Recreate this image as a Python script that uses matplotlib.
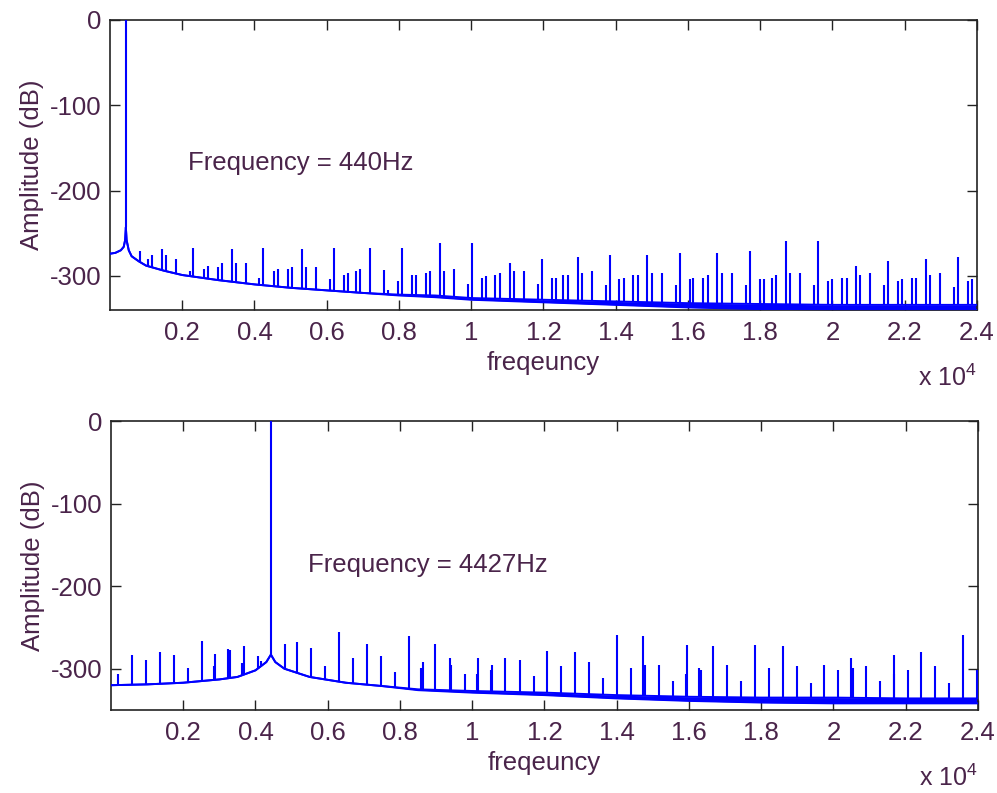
import numpy as np
import matplotlib
matplotlib.use("Agg")
import matplotlib.pyplot as plt

plt.rcParams['font.family'] = ['Liberation Sans', 'DejaVu Sans']
plt.rcParams['mathtext.fontset'] = 'custom'
plt.rcParams['mathtext.rm'] = 'Liberation Sans'

TXT = '#4a244a'
BLUE = '#0000ff'

# ---- top panel: 440 Hz tone ----
f1_peak = 440
f1_floor = [5, 150, 300, 380, 420, 440, 460, 520, 600, 800, 1000, 1500, 2000, 3000, 4000,
            5000, 6000, 7000, 8000, 9000, 10000, 12000, 14000, 16000, 18000, 20000, 22000, 24000]
db1_floor = [-274, -273, -270, -266, -258, -243, -258, -270, -277, -283, -288, -294, -299, -305, -310,
             -314, -317, -320, -322, -323, -326, -328, -330, -332, -333, -334, -334, -334]
# lower edge of the noisy floor band
db1_floor_lo = [-274, -273, -270, -266, -258, -243, -258, -270, -277, -283, -288, -294, -299, -305, -310,
                -314, -317, -320, -323, -325, -328, -331, -334, -337, -339, -340, -340, -340]
f1_spk = [831, 1062, 1154, 1431, 1551, 1819, 2215, 2308, 2612, 2704, 3000, 3092, 3369, 3480, 3757,
          4135, 4246, 4541, 4643, 4938, 5031, 5308, 5427, 5696, 6092, 6194, 6488, 6581, 6803, 6923,
          7200, 7596, 7707, 7966, 8077, 8353, 8464, 8741, 8852, 9138, 9248, 9525, 9904, 10015,
          10292, 10403, 10661, 10799, 11076, 11178, 11455, 11842, 11953, 12230, 12350, 12553,
          12673, 12950, 13061, 13338, 13726, 13836, 14104, 14233, 14491, 14611, 14879, 14999,
          15276, 15664, 15774, 16051, 16152, 16430, 16550, 16817, 16937, 17214, 17602, 17713,
          17990, 18109, 18322, 18433, 18710, 18829, 19106, 19485, 19596, 19873, 19983, 20260,
          20389, 20648, 20768, 21044, 21423, 21534, 21801, 21930, 22198, 22318, 22586, 22697,
          22974, 23362, 23473, 23740, 23860]
db1_spk = [-271, -280, -276, -269, -276, -280, -294, -267, -292, -288, -290, -285, -269, -285, -285,
           -302, -267, -294, -292, -292, -290, -269, -290, -290, -304, -267, -299, -297, -294, -292,
           -267, -293, -316, -306, -267, -299, -299, -297, -294, -262, -294, -292, -309, -262,
           -302, -300, -299, -297, -285, -294, -294, -309, -280, -302, -302, -299,
           -299, -278, -297, -294, -311, -276, -304, -302, -299, -299, -276, -297,
           -297, -311, -273, -304, -302, -302, -299, -273, -297, -297, -311, -271,
           -304, -304, -302, -299, -259, -297, -297, -311, -259, -306, -304, -302,
           -302, -288, -299, -297, -311, -282, -306, -304, -302, -302, -280, -299,
           -297, -313, -278, -306, -304]

# ---- bottom panel: 4427 Hz tone ----
f2_peak = 4427
f2_floor = [5, 1000, 2000, 3000, 3500, 4000, 4300, 4427, 4550, 4800, 5500, 6500, 7500, 8500,
            10000, 12000, 14000, 16000, 18000, 20000, 22000, 24000]
db2_floor = [-320, -319, -317, -313, -310, -302, -292, -283, -292, -300, -310, -317, -321, -325,
             -327, -329, -332, -334, -335, -335, -336, -336]
db2_floor_lo = [-320, -319, -317, -313, -310, -302, -292, -283, -292, -300, -310, -317, -321, -326,
                -329, -332, -336, -339, -341, -342, -342, -342]
f2_spk = [184, 572, 959, 1355, 1743, 2121, 2508, 2877, 3227, 3670, 4057, 4831, 5163, 5551, 5938,
          6325, 6712, 7099, 7487, 7874, 8261, 8639, 8980, 9377, 9792, 10160, 10548, 10917, 11313,
          11700, 12078, 12465, 12853, 13240, 13627, 14014, 14383, 14734, 15158, 15545, 15932,
          16274, 16661, 17057, 17444, 17832, 18209, 18606, 18993, 19381, 19749, 20118, 20487,
          20902, 21298, 21685, 22054, 22423, 22811, 23207, 23585, 23972]
db2_spk = [-306, -283, -290, -280, -283, -299, -266, -282, -276, -273, -285, -270, -268, -275, -297,
           -256, -287, -270, -285, -304, -261, -292, -270, -287, -307, -287, -295, -287, -290,
           -309, -278, -297, -280, -292, -311, -259, -299, -261, -295, -315, -271,
           -299, -273, -295, -315, -271, -299, -273, -297, -317, -295, -302, -287,
           -297, -315, -283, -302, -280, -297, -317, -259, -302]
# secondary lines that sit right beside some of the main ones
f2_pair = [2849, 3282, 3615, 4149, 8593, 9423, 10142, 10529, 14771, 15923, 16338, 20533, 21667]
db2_pair = [-297, -277, -293, -291, -299, -295, -307, -302, -295, -307, -301, -299, -307]


def panel(ax, f_peak, f_floor, db_floor, db_lo, f_spk, db_spk, ymin, label):
    ax.fill_between(f_floor, db_lo, db_floor, color=BLUE, lw=0, zorder=2)
    ax.plot(f_floor, db_floor, color=BLUE, lw=1.4, zorder=3)
    ax.plot(f_floor, db_lo, color=BLUE, lw=1.4, zorder=3)
    base = np.interp(f_spk, f_floor, db_floor)
    ax.vlines(f_spk, base, db_spk, color=BLUE, lw=1.5, zorder=3)
    ax.vlines([f_peak], [np.interp(f_peak, f_floor, db_floor)], [0], color=BLUE, lw=1.5, zorder=3)

    ax.set_xlim(0, 24000)
    ax.set_ylim(ymin, 0)
    xt = np.arange(2000, 24001, 2000)
    ax.set_xticks(xt)
    ax.set_xticklabels(['%g' % (v / 1e4) for v in xt])
    ax.set_yticks([0, -100, -200, -300])
    ax.set_yticklabels(['0', '-100', '-200', '-300'])
    ax.tick_params(direction='in', length=7, width=1, top=True, right=True,
                   labelsize=18.5, labelcolor=TXT, color='#222222')
    ax.tick_params(axis='x', pad=8)
    ax.tick_params(axis='y', pad=6)
    for s in ax.spines.values():
        s.set_color('#222222')
        s.set_linewidth(1.2)
    ax.set_xlabel('freqeuncy', fontsize=18.5, color=TXT, labelpad=4)
    ax.set_ylabel('Amplitude (dB)', fontsize=18.5, color=TXT, labelpad=4)
    ax.text(1.0, -0.235, r'x 10$^{4}$', transform=ax.transAxes, ha='right', va='center',
            fontsize=18, color=TXT)
    ax.text(label[0], label[1], label[2], fontsize=18.5, color=TXT, va='center', ha='left')


fig = plt.figure(figsize=(9.97, 7.93), dpi=100)
ax1 = fig.add_axes([0.1103, 0.6091, 0.8696, 0.3657])
ax2 = fig.add_axes([0.1113, 0.1047, 0.8696, 0.3644])

panel(ax1, f1_peak, f1_floor, db1_floor, db1_floor_lo, f1_spk, db1_spk, -340,
      (2160, -168, 'Frequency = 440Hz'))
panel(ax2, f2_peak, f2_floor, db2_floor, db2_floor_lo, f2_spk, db2_spk, -350,
      (5450, -175, 'Frequency = 4427Hz'))
ax2.vlines(f2_pair, np.interp(f2_pair, f2_floor, db2_floor), db2_pair, color=BLUE, lw=1.5, zorder=3)

fig.savefig('out.png', dpi=100)
